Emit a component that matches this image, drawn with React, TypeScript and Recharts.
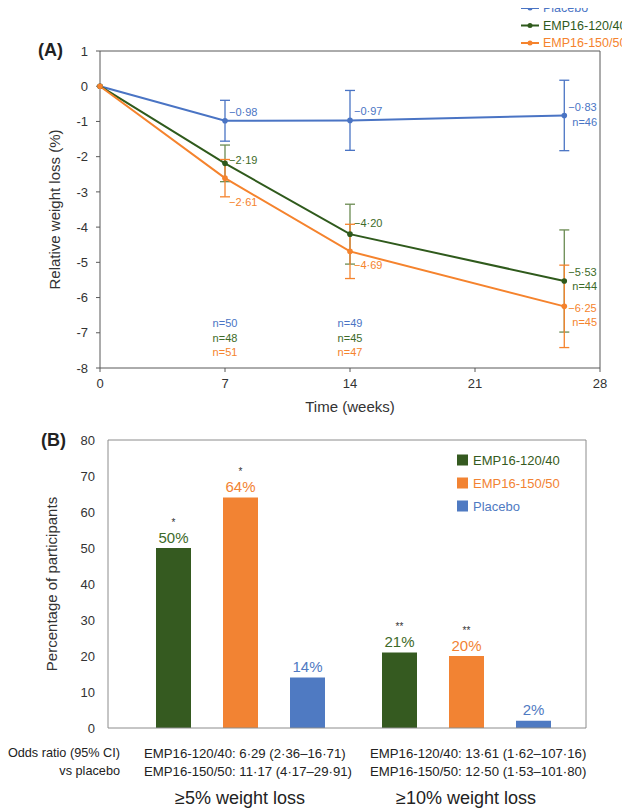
import {
  LineChart,
  Line,
  XAxis,
  YAxis,
  ErrorBar,
  ReferenceDot,
  Legend,
  CartesianGrid,
  BarChart,
  Bar,
  LabelList,
} from 'recharts'

const FONT = '"Liberation Sans", Arial, Helvetica, sans-serif'

// Panel A: relative weight loss over time
const WEEKS = [0, 7, 14, 26]
const PLACEBO = [0, -0.98, -0.97, -0.83]
const PLACEBO_ERR = [null, 0.58, 0.85, 1.0]
const EMP120 = [0, -2.19, -4.2, -5.53]
const EMP120_ERR = [null, 0.52, 0.85, 1.45]
const EMP150 = [0, -2.61, -4.69, -6.25]
const EMP150_ERR = [null, 0.53, 0.77, 1.17]
const N_PLACEBO = [null, 50, 49, 46]
const N_EMP120 = [null, 48, 45, 44]
const N_EMP150 = [null, 51, 47, 45]
const X_TICKS = [0, 7, 14, 21, 28]
const Y_TICKS = [1, 0, -1, -2, -3, -4, -5, -6, -7, -8]
const LINE_ORDER = ['Placebo', 'EMP16-120/40', 'EMP16-150/50']

// Panel B: responders
const GROUPS = ['≥5% weight loss', '≥10% weight loss']
const PCT_EMP120 = [50, 21]
const PCT_EMP150 = [64, 20]
const PCT_PLACEBO = [14, 2]
const SIG_EMP120 = ['*', '**']
const SIG_EMP150 = ['*', '**']
const OR_EMP120 = ['6·29 (2·36–16·71)', '13·61 (1·62–107·16)']
const OR_EMP150 = ['11·17 (4·17–29·91)', '12·50 (1·53–101·80)']
const B_TICKS = [0, 10, 20, 30, 40, 50, 60, 70, 80]
const BAR_ORDER = ['EMP16-120/40', 'EMP16-150/50', 'Placebo']

const C = {
  blue: '#4a74c4',
  green: '#2f5a1c',
  greenErr: '#6b8b52',
  greenText: '#3d6a28',
  orange: '#f5832d',
  barGreen: '#355a20',
  barOrange: '#f28333',
  barBlue: '#4f7ac2',
}

const lineData = WEEKS.map((week, i) => ({
  week,
  placebo: PLACEBO[i],
  placeboErr: PLACEBO_ERR[i],
  emp120: EMP120[i],
  emp120Err: EMP120_ERR[i],
  emp150: EMP150[i],
  emp150Err: EMP150_ERR[i],
}))

const barData = GROUPS.map((group, i) => ({
  group,
  emp120: PCT_EMP120[i],
  emp150: PCT_EMP150[i],
  placebo: PCT_PLACEBO[i],
}))

const fmt = (v: number) => (v < 0 ? '−' : '') + Math.abs(v).toFixed(2).replace('.', '·')

// label offsets (px) relative to each point: [dx, dy] for value, and n= at last point
const VAL_OFF: Record<string, (number[] | null)[]> = {
  placebo: [null, [4, -9], [4, -9], [4, -8]],
  emp120: [null, [4, -3], [4, -11], [4, -9]],
  emp150: [null, [4, 24], [4, 14], [4, 2]],
}
const N_OFF: Record<string, number[]> = {
  placebo: [8, 7],
  emp120: [8, 5],
  emp150: [8, 16],
}

const makeDot = (key: string, color: string, textColor: string, ns: (number | null)[]) =>
  (props: any) => {
    const { cx, cy, index, payload } = props
    const off = VAL_OFF[key][index]
    const last = index === WEEKS.length - 1
    return (
      <g key={`${key}-${index}`}>
        <circle cx={cx} cy={cy} r={2.8} fill={color} />
        {off && (
          <text x={cx + off[0]} y={cy + off[1]} fontSize={11} fill={textColor} dominantBaseline="central" fontFamily={FONT}>
            {fmt(payload[key])}
          </text>
        )}
        {last && (
          <text x={cx + N_OFF[key][0]} y={cy + N_OFF[key][1]} fontSize={11} fill={textColor} dominantBaseline="central" fontFamily={FONT}>
            n={ns[index]}
          </text>
        )}
      </g>
    )
  }

const sortBy = (payload: any[], order: string[]) =>
  [...(payload ?? [])].sort((a, b) => order.indexOf(a.value) - order.indexOf(b.value))

function LineLegend({ payload }: any) {
  const items = sortBy(payload, LINE_ORDER)
  return (
    <svg width={110} height={52} style={{ display: 'block', overflow: 'visible' }}>
      {items.map((item: any, i: number) => (
        <g key={item.value} transform={`translate(0, ${8 + i * 17.5})`}>
          <line x1={0} x2={18} y1={0} y2={0} stroke={item.color} strokeWidth={2} />
          <circle cx={9} cy={0} r={2.5} fill={item.color} />
          <text x={22} y={0} dominantBaseline="central" fontSize={12.5} fill={item.color} fontFamily={FONT}>
            {item.value}
          </text>
        </g>
      ))}
    </svg>
  )
}

function BarLegend({ payload }: any) {
  const items = sortBy(payload, BAR_ORDER)
  return (
    <svg width={140} height={70} style={{ display: 'block', overflow: 'visible' }}>
      {items.map((item: any, i: number) => (
        <g key={item.value} transform={`translate(0, ${11 + i * 23})`}>
          <rect x={0} y={-5.5} width={11} height={11} fill={item.color} />
          <text x={16} y={0} dominantBaseline="central" fontSize={13} fill={item.color} fontFamily={FONT}>
            {item.value}
          </text>
        </g>
      ))}
    </svg>
  )
}

const N_ROWS = [
  { ns: N_PLACEBO, y: -6.72, color: C.blue },
  { ns: N_EMP120, y: -7.14, color: C.greenText },
  { ns: N_EMP150, y: -7.56, color: C.orange },
]

const boxTop = (p: any) => [p.offset.top]
const boxRight = (p: any) => [p.offset.left + p.offset.width]

function WeightLossChart() {
  return (
    <LineChart width={630} height={420} data={lineData} margin={{ top: 51, right: 30, bottom: 22, left: 50 }}>
      <CartesianGrid
        stroke="#595959"
        horizontalCoordinatesGenerator={boxTop}
        verticalCoordinatesGenerator={boxRight}
      />
      <XAxis
        type="number"
        dataKey="week"
        domain={[0, 28]}
        ticks={X_TICKS}
        interval={0}
        height={30}
        tickSize={4}
        tickMargin={7}
        stroke="#595959"
        tick={{ fill: '#333', fontSize: 13, fontFamily: FONT }}
        label={{ value: 'Time (weeks)', position: 'bottom', offset: 3, fill: '#333', fontSize: 15, fontFamily: FONT }}
      />
      <YAxis
        type="number"
        domain={[-8, 1]}
        ticks={Y_TICKS}
        interval={0}
        width={50}
        tickSize={4}
        tickMargin={8}
        stroke="#595959"
        tick={{ fill: '#333', fontSize: 13, fontFamily: FONT }}
        label={{
          value: 'Relative weight loss (%)',
          angle: -90,
          position: 'insideLeft',
          offset: 5,
          fill: '#333',
          fontSize: 15,
          fontFamily: FONT,
          style: { textAnchor: 'middle' },
        }}
      />
      <Legend
        layout="horizontal"
        verticalAlign="middle"
        align="center"
        content={<LineLegend />}
        wrapperStyle={{ top: 0, left: 521, width: 110, height: 52 }}
      />
      <Line
        name="Placebo"
        dataKey="placebo"
        stroke={C.blue}
        strokeWidth={2}
        dot={makeDot('placebo', C.blue, C.blue, N_PLACEBO)}
        activeDot={false}
        isAnimationActive={false}
      >
        <ErrorBar dataKey="placeboErr" direction="y" width={5} stroke={C.blue} strokeWidth={1.3} />
      </Line>
      <Line
        name="EMP16-120/40"
        dataKey="emp120"
        stroke={C.green}
        strokeWidth={2}
        dot={makeDot('emp120', C.green, C.greenText, N_EMP120)}
        activeDot={false}
        isAnimationActive={false}
      >
        <ErrorBar dataKey="emp120Err" direction="y" width={5} stroke={C.greenErr} strokeWidth={1.3} />
      </Line>
      <Line
        name="EMP16-150/50"
        dataKey="emp150"
        stroke={C.orange}
        strokeWidth={2}
        dot={makeDot('emp150', C.orange, C.orange, N_EMP150)}
        activeDot={false}
        isAnimationActive={false}
      >
        <ErrorBar dataKey="emp150Err" direction="y" width={5} stroke={C.orange} strokeWidth={1.3} />
      </Line>
      {N_ROWS.flatMap((row) =>
        [1, 2].map((i) => (
          <ReferenceDot
            key={`${row.color}-${i}`}
            x={WEEKS[i]}
            y={row.y}
            r={1}
            fill="none"
            stroke="none"
            label={{ value: `n=${row.ns[i]}`, position: 'center', fill: row.color, fontSize: 11, fontFamily: FONT }}
          />
        )),
      )}
    </LineChart>
  )
}

const makeBarLabel = (color: string, sig?: string[]) => (props: any) => {
  const vb = props.viewBox ?? props
  const x = props.x ?? vb.x
  const y = props.y ?? vb.y
  const width = props.width ?? vb.width
  const cx = x + width / 2
  return (
    <g key={`${color}-${props.index}`}>
      {sig && (
        <text x={cx} y={y - 26} textAnchor="middle" dominantBaseline="central" fontSize={10} fill="#333" fontFamily={FONT}>
          {sig[props.index]}
        </text>
      )}
      <text x={cx} y={y - 11} textAnchor="middle" dominantBaseline="central" fontSize={15} fill={color} fontFamily={FONT}>
        {props.value}%
      </text>
    </g>
  )
}

function GroupTick(props: any) {
  const { x, y, payload } = props
  const i = payload?.index ?? props.index
  const lx = x - 96
  return (
    <g fontFamily={FONT} fill="#222">
      {i === 0 && (
        <>
          <text x={lx - 24} y={y + 25} textAnchor="end" dominantBaseline="central" fontSize={12.7}>
            Odds ratio (95% CI)
          </text>
          <text x={lx - 24} y={y + 43} textAnchor="end" dominantBaseline="central" fontSize={12.7}>
            vs placebo
          </text>
        </>
      )}
      <text x={lx} y={y + 25} dominantBaseline="central" fontSize={13.2}>
        EMP16-120/40: {OR_EMP120[i]}
      </text>
      <text x={lx} y={y + 43} dominantBaseline="central" fontSize={13.2}>
        EMP16-150/50: {OR_EMP150[i]}
      </text>
      <text x={x} y={y + 70} textAnchor="middle" dominantBaseline="central" fontSize={18}>
        {payload.value}
      </text>
    </g>
  )
}

function ResponderChart() {
  return (
    <BarChart
      width={630}
      height={389}
      data={barData}
      margin={{ top: 20, right: 44, bottom: 21, left: 48 }}
      barSize={35}
      barGap={32}
    >
      <CartesianGrid
        stroke="#8c8c8c"
        horizontalCoordinatesGenerator={boxTop}
        verticalCoordinatesGenerator={boxRight}
      />
      <XAxis
        dataKey="group"
        height={60}
        padding={{ left: 19, right: 7 }}
        tickLine={false}
        tickSize={0}
        tickMargin={0}
        interval={0}
        stroke="#8c8c8c"
        tick={<GroupTick />}
      />
      <YAxis
        domain={[0, 80]}
        ticks={B_TICKS}
        interval={0}
        width={60}
        tickLine={false}
        tickSize={5}
        tickMargin={8}
        stroke="#8c8c8c"
        tick={{ fill: '#333', fontSize: 13, fontFamily: FONT }}
        label={{
          value: 'Percentage of participants',
          angle: -90,
          position: 'insideLeft',
          offset: 4,
          fill: '#333',
          fontSize: 15,
          fontFamily: FONT,
          style: { textAnchor: 'middle' },
        }}
      />
      <Legend
        layout="horizontal"
        verticalAlign="middle"
        align="center"
        content={<BarLegend />}
        wrapperStyle={{ top: 29, left: 457, width: 140, height: 70 }}
      />
      <Bar name="EMP16-120/40" dataKey="emp120" fill={C.barGreen} isAnimationActive={false}>
        <LabelList dataKey="emp120" content={makeBarLabel(C.greenText, SIG_EMP120)} />
      </Bar>
      <Bar name="EMP16-150/50" dataKey="emp150" fill={C.barOrange} isAnimationActive={false}>
        <LabelList dataKey="emp150" content={makeBarLabel(C.barOrange, SIG_EMP150)} />
      </Bar>
      <Bar name="Placebo" dataKey="placebo" fill={C.barBlue} isAnimationActive={false}>
        <LabelList dataKey="placebo" content={makeBarLabel(C.barBlue)} />
      </Bar>
    </BarChart>
  )
}

export default function App() {
  return (
    <div style={{ position: 'relative', width: 630, height: 809, margin: '-8px 0 0 -8px', background: '#fff', overflow: 'hidden', fontFamily: FONT }}>
      <div style={{ position: 'absolute', left: 0, top: 0 }}>
        <WeightLossChart />
      </div>
      <div style={{ position: 'absolute', left: 0, top: 420 }}>
        <ResponderChart />
      </div>
      <div style={{ position: 'absolute', left: 38, top: 40, fontSize: 18, fontWeight: 'bold', color: '#222' }}>(A)</div>
      <div style={{ position: 'absolute', left: 41, top: 430, fontSize: 18, fontWeight: 'bold', color: '#222' }}>(B)</div>
    </div>
  )
}
